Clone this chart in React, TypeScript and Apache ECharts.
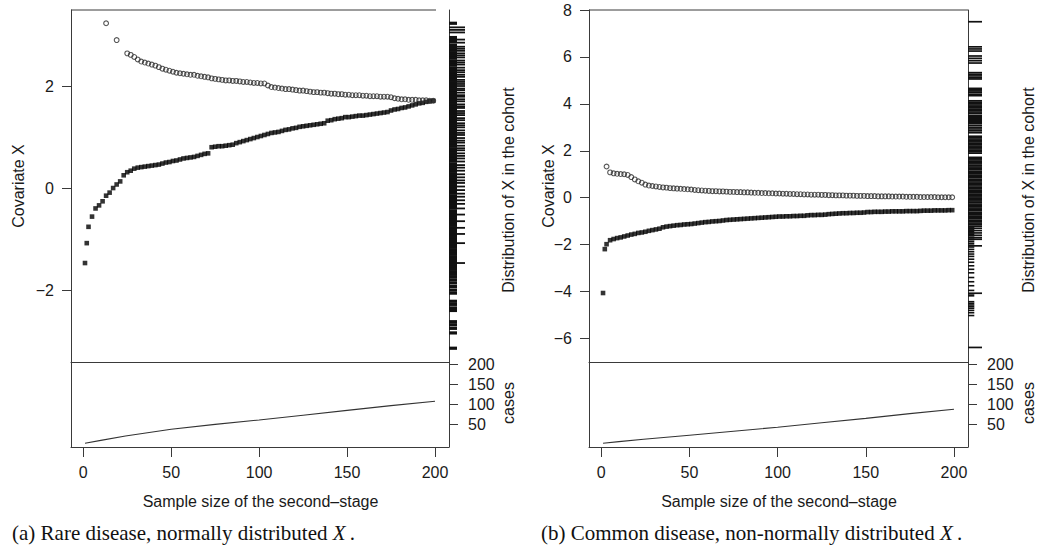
import React, { useEffect, useRef } from "react";
import * as echarts from "echarts";

// ---------- data ----------
const sampleSizes = [1, 2, 3, 5, 7, 9, 11, 13, 15, 17, 19, 21, 23, 25, 27, 29, 31, 33, 35, 37, 39, 41, 43, 45, 47, 49, 51, 53, 55, 57, 59, 61, 63, 65, 67, 69, 71, 73, 75, 77, 79, 81, 83, 85, 87, 89, 91, 93, 95, 97, 99, 101, 103, 105, 107, 109, 111, 113, 115, 117, 119, 121, 123, 125, 127, 129, 131, 133, 135, 137, 139, 141, 143, 145, 147, 149, 151, 153, 155, 157, 159, 161, 163, 165, 167, 169, 171, 173, 175, 177, 179, 181, 183, 185, 187, 189, 191, 193, 195, 197, 199];

// (a) rare disease: upper (open circles) and lower (filled squares) bounds
const rareUpper = [null, null, null, null, null, null, null, 3.23, null, null, 2.9, null, null,
  2.64, 2.61, 2.57, 2.52, 2.48, 2.46, 2.44, 2.42, 2.40, 2.37, 2.34, 2.32, 2.30, 2.28, 2.26,
  2.25, 2.24, 2.23, 2.22, 2.22, 2.20, 2.19, 2.18, 2.17, 2.15, 2.14, 2.13, 2.12, 2.11, 2.11,
  2.10, 2.10, 2.09, 2.08, 2.08, 2.07, 2.06, 2.06, 2.05, 2.05, 2.01, 1.98, 1.97, 1.96, 1.95,
  1.94, 1.94, 1.93, 1.92, 1.91, 1.91, 1.90, 1.89, 1.88, 1.88, 1.87, 1.87, 1.86, 1.85, 1.85,
  1.84, 1.84, 1.83, 1.83, 1.82, 1.82, 1.82, 1.81, 1.81, 1.80, 1.80, 1.80, 1.79, 1.79, 1.79,
  1.78, 1.76, 1.75, 1.74, 1.74, 1.73, 1.73, 1.73, 1.72, 1.72, 1.72, 1.71, 1.71];
const rareLower = [-1.47, -1.08, -0.76, -0.56, -0.40, -0.34, -0.26,
  -0.15, -0.09, 0.00, 0.07, 0.13, 0.25, 0.31, 0.34, 0.38, 0.40,
  0.41, 0.42, 0.43, 0.44, 0.45, 0.46, 0.48, 0.50, 0.51, 0.53,
  0.54, 0.56, 0.58, 0.59, 0.60, 0.61, 0.63, 0.65, 0.67, 0.68,
  0.80, 0.81, 0.82, 0.82, 0.83, 0.84, 0.85, 0.88, 0.90, 0.92,
  0.94, 0.96, 0.98, 1.00, 1.02, 1.04, 1.06, 1.08, 1.09, 1.10,
  1.12, 1.14, 1.15, 1.17, 1.18, 1.20, 1.21, 1.22, 1.23, 1.24,
  1.25, 1.26, 1.27, 1.32, 1.33, 1.35, 1.36, 1.37, 1.39, 1.39,
  1.40, 1.41, 1.42, 1.42, 1.43, 1.44, 1.45, 1.46, 1.47, 1.48,
  1.49, 1.52, 1.54, 1.55, 1.57, 1.58, 1.60, 1.62, 1.64, 1.66,
  1.67, 1.69, 1.70, 1.71];

// (b) common disease
const commonUpper = [null, null, 1.33, 1.08, 1.04, 1.02, 1.01,
  1.00, 0.97, 0.88, 0.78, 0.70, 0.64, 0.56, 0.52, 0.50, 0.48,
  0.46, 0.44, 0.43, 0.41, 0.40, 0.39, 0.38, 0.37, 0.36, 0.35,
  0.33, 0.32, 0.31, 0.30, 0.29, 0.28, 0.28, 0.27, 0.27, 0.26,
  0.25, 0.25, 0.24, 0.24, 0.23, 0.23, 0.22, 0.21, 0.21, 0.20,
  0.20, 0.19, 0.19, 0.18, 0.18, 0.17, 0.17, 0.16, 0.16, 0.15,
  0.15, 0.14, 0.14, 0.13, 0.13, 0.13, 0.12, 0.12, 0.11, 0.11,
  0.10, 0.10, 0.10, 0.09, 0.09, 0.09, 0.08, 0.08, 0.08, 0.07,
  0.07, 0.07, 0.06, 0.06, 0.06, 0.06, 0.05, 0.05, 0.05, 0.05,
  0.04, 0.04, 0.04, 0.04, 0.03, 0.03, 0.03, 0.03, 0.03, 0.02,
  0.02, 0.02, 0.02, 0.02];
const commonLower = [-4.06, -2.19, -1.98, -1.81, -1.76, -1.72, -1.69,
  -1.65, -1.61, -1.57, -1.54, -1.50, -1.48, -1.45, -1.41, -1.38, -1.35,
  -1.32, -1.26, -1.23, -1.21, -1.19, -1.17, -1.16, -1.14, -1.13, -1.12,
  -1.10, -1.08, -1.06, -1.04, -1.03, -1.01, -1.00, -0.99, -0.97, -0.95,
  -0.94, -0.93, -0.92, -0.91, -0.90, -0.89, -0.88, -0.87, -0.86, -0.85,
  -0.84, -0.83, -0.82, -0.81, -0.80, -0.80, -0.79, -0.79, -0.78, -0.78,
  -0.77, -0.77, -0.75, -0.74, -0.74, -0.73, -0.73, -0.72, -0.70, -0.69,
  -0.68, -0.67, -0.66, -0.66, -0.65, -0.65, -0.64, -0.64, -0.63, -0.61,
  -0.61, -0.60, -0.60, -0.60, -0.59, -0.59, -0.58, -0.58, -0.58, -0.58,
  -0.57, -0.57, -0.57, -0.57, -0.56, -0.55, -0.55, -0.55, -0.54, -0.54,
  -0.54, -0.54, -0.53, -0.53];

// number of cases in the second stage
const casesSampleSizes = [1, 10, 24, 50, 75, 100, 125, 150, 175, 200];
const rareCases = [2, 9, 20, 37, 49, 60, 72, 84, 96, 107];
const commonCases = [2, 6, 12, 22, 32, 42, 53, 64, 76, 87];

// distribution of X in the cohort (rug)
const rareCohortLong = [3.15, 3.10, 3.05, 2.91, 2.85, 2.77, 2.73, 2.69, 2.64, 2.60, 2.56, 2.50, 2.46,
  2.42, 2.36, 2.31, 2.27, 2.22, 2.18, 2.12, 2.08, 2.04, 2.00, 1.95, 1.92, 1.87, 1.82, 1.79, 1.74,
  1.70, 1.64, 1.60, 1.57, 1.51, 1.47, 1.43, 1.37, 1.33, 1.27, 1.23, 1.19, 1.13, 1.08, 1.04, 0.98,
  0.93, 0.89, 0.83, 0.78, 0.74, 0.68, 0.63, 0.58, 0.52, 0.45, 0.40, 0.34, 0.27, 0.21, 0.15, 0.10,
  0.03, -0.04, -0.11, -0.17, -0.24, -0.31, -0.40, -0.52, -0.65, -0.78, -0.90, -1.08, -1.47];
const rareCohortShort = [3.23, 2.95, 2.88, 2.80, 2.74, 2.70, 2.64, 2.60, 2.55, 2.49, 2.45, 2.41, 2.35,
  2.31, 2.26, 2.20, 2.16, 2.12, 2.06, 2.02, 1.97, 1.91, 1.87, 1.83, 1.77, 1.73, 1.68, 1.63, 1.58,
  1.54, 1.49, 1.44, 1.39, 1.35, 1.29, 1.25, 1.20, 1.15, 1.11, 1.05, 1.01, 0.96, 0.90, 0.86, 0.82,
  0.76, 0.72, 0.67, 0.61, 0.57, 0.53, 0.47, 0.43, 0.38, 0.33, 0.28, 0.24, 0.18, 0.14, 0.09, 0.05,
  -0.01, -0.05, -0.10, -0.16, -0.20, -0.25, -0.30, -0.34, -0.39, -0.45, -0.49, -0.54, -0.58, -0.63,
  -0.69, -0.73, -0.78, -0.83, -0.87, -0.93, -0.97, -1.02, -1.07, -1.11, -1.16, -1.21, -1.26, -1.30,
  -1.36, -1.40, -1.45, -1.50, -1.55, -1.59, -1.64, -1.69, -1.74, -1.80, -1.86, -1.93, -2.00, -2.06,
  -2.22, -2.28, -2.35, -2.40, -2.62, -2.68, -2.75, -2.84, -3.14];
const commonCohortLong = [7.50, 6.43, 6.34, 6.25, 6.04, 5.94, 5.84, 5.74, 5.33, 5.26, 5.19, 5.11, 5.06,
  4.66, 4.60, 4.55, 4.49, 4.41, 4.35, 4.13, 4.07, 4.01, 3.95, 3.89, 3.83, 3.77, 3.71, 3.65, 3.58,
  3.49, 3.45, 3.41, 3.37, 3.33, 3.29, 3.25, 3.20, 3.16, 3.08, 3.00, 2.93, 2.85, 2.77, 2.62, 2.56,
  2.50, 2.44, 2.38, 2.32, 2.26, 2.20, 2.14, 2.08, 2.02, 1.96, 1.90, 1.72, 1.66, 1.61, 1.55, 1.49,
  1.44, 1.37, 1.31, 1.26, 1.20, 1.13, 1.08, 1.02, 0.96, 0.91, 0.85, 0.78, 0.73, 0.67, 0.61, 0.56,
  0.50, 0.43, 0.38, 0.32, 0.26, 0.21, 0.15, 0.08, 0.03, -0.03, -0.09, -0.14, -0.20, -0.27, -0.32,
  -0.38, -0.44, -0.49, -0.55, -0.62, -0.67, -0.73, -0.79, -0.84, -0.90, -0.97, -1.02, -1.08, -1.14,
  -1.21, -1.30, -1.40, -1.50, -1.60, -1.70, -1.77, -2.05, -4.07, -6.38];
const commonCohortShort = [-1.25, -1.31, -1.37, -1.43, -1.50, -1.56, -1.62, -1.70, -1.78, -1.86, -1.94,
  -2.02, -2.10, -2.20, -2.30, -2.40, -2.50, -2.62, -2.75, -2.90, -3.05, -3.20, -3.40, -3.58, -3.75,
  -3.95, -4.10, -4.18, -4.43, -4.50, -4.57, -4.64, -4.71, -4.80, -4.90, -5.02];

const xTicks = [0, 50, 100, 150, 200];
const rareYTicks = [-2, 0, 2];
const commonYTicks = [-6, -4, -2, 0, 2, 4, 6, 8];
const casesTicks = [50, 100, 150, 200];

// ---------- layout / style ----------
const SANS = '"Liberation Sans", Arial, sans-serif';
const SERIF = '"Liberation Serif", "Times New Roman", serif';
const LINE = "#3a3a3a";
const TEXT = "#1a1a1a";
const TOP = 10;
const SEP = 362;
const BOTTOM = 447;
const X_MIN = -6.96;
const X_MAX = 207.96;
const CASES_MIN = -7.5;
const CASES_MAX = 205;

const panels = [
  {
    left: 71, right: 449, topLineEnd: 436, rugLen: 16, shortFrac: 0.5, shortThick: 3.2, longThick: 1.8,
    yMin: -3.41, yMax: 3.49, yTicks: rareYTicks,
    upper: rareUpper, lower: rareLower, cases: rareCases,
    rugLong: rareCohortLong, rugShort: rareCohortShort,
    caption: "(a) Rare disease, normally distributed {i|X}\u2009.", captionX: 12,
    yLabelX: 18, rightLabelX: 508,
  },
  {
    left: 589, right: 968, topLineEnd: 968, rugLen: 14, shortFrac: 0.45, shortThick: 1.6, longThick: 1.7,
    yMin: -7, yMax: 8, yTicks: commonYTicks,
    upper: commonUpper, lower: commonLower, cases: commonCases,
    rugLong: commonCohortLong, rugShort: commonCohortShort,
    caption: "(b) Common disease, non-normally distributed {i|X}\u2009.", captionX: 541,
    yLabelX: 548, rightLabelX: 1028,
  },
];

const fmt = (v: number) => (v < 0 ? "\u2212" + Math.abs(v) : String(v));

function rugRenderer(frac: number, thick: number) {
  return (_params: any, api: any) => {
    const v = api.value(1);
    const a = api.coord([0, v]);
    const b = api.coord([frac, v]);
    return {
      type: "line",
      shape: { x1: a[0], y1: a[1], x2: b[0], y2: b[1] },
      style: { stroke: "#111", lineWidth: thick },
    };
  };
}

function buildOption() {
  const grid: any[] = [];
  const xAxis: any[] = [];
  const yAxis: any[] = [];
  const series: any[] = [];
  const graphic: any[] = [];
  const axisLine = { show: true, onZero: false, lineStyle: { color: LINE, width: 1 } };
  const tickStyle = { color: LINE, width: 1 };
  const labelStyle = { fontSize: 16, fontFamily: SANS, color: TEXT };

  panels.forEach((p) => {
    const gMain = grid.length;
    grid.push({ left: p.left, top: TOP, width: p.right - p.left, height: SEP - TOP });
    grid.push({ left: p.left, top: SEP, width: p.right - p.left, height: BOTTOM - SEP });
    grid.push({ left: p.right, top: TOP, width: p.rugLen, height: SEP - TOP });
    const gCases = gMain + 1;
    const gRug = gMain + 2;

    const xMain = xAxis.length;
    xAxis.push({
      gridIndex: gMain, type: "value", min: X_MIN, max: X_MAX, position: "bottom",
      axisLine, axisTick: { show: false }, axisLabel: { show: false }, splitLine: { show: false },
    });
    const xCases = xAxis.length;
    xAxis.push({
      gridIndex: gCases, type: "value", min: X_MIN, max: X_MAX, position: "bottom",
      axisLine,
      axisTick: { show: true, length: 10, lineStyle: tickStyle, customValues: xTicks },
      axisLabel: { ...labelStyle, customValues: xTicks, margin: 17 },
      splitLine: { show: false },
    });
    const xRug = xAxis.length;
    xAxis.push({ gridIndex: gRug, type: "value", min: 0, max: 1, show: false });

    const yMain = yAxis.length;
    yAxis.push({
      gridIndex: gMain, type: "value", min: p.yMin, max: p.yMax, position: "left",
      axisLine,
      axisTick: { show: true, length: 9, lineStyle: tickStyle, customValues: p.yTicks },
      axisLabel: { ...labelStyle, customValues: p.yTicks, formatter: fmt, margin: 17 },
      splitLine: { show: false },
    });
    yAxis.push({
      gridIndex: gCases, type: "value", min: CASES_MIN, max: CASES_MAX, position: "left",
      axisLine, axisTick: { show: false }, axisLabel: { show: false }, splitLine: { show: false },
    });
    const yCases = yAxis.length;
    yAxis.push({
      gridIndex: gCases, type: "value", min: CASES_MIN, max: CASES_MAX, position: "right",
      axisLine,
      axisTick: { show: true, length: 9, lineStyle: tickStyle, customValues: casesTicks },
      axisLabel: { ...labelStyle, customValues: casesTicks, margin: 19 },
      splitLine: { show: false },
    });
    const yRug = yAxis.length;
    yAxis.push({
      gridIndex: gRug, type: "value", min: p.yMin, max: p.yMax, position: "left",
      axisLine, axisTick: { show: false }, axisLabel: { show: false }, splitLine: { show: false },
    });

    const pairs = (vals: (number | null)[]) =>
      sampleSizes.map((n, i) => [n, vals[i]]).filter((d) => d[1] !== null && d[1] !== undefined);

    series.push({
      type: "custom", xAxisIndex: xRug, yAxisIndex: yRug, clip: false, silent: true,
      data: p.rugShort.map((v) => [0, v]),
      renderItem: rugRenderer(p.shortFrac, p.shortThick),
    });
    series.push({
      type: "custom", xAxisIndex: xRug, yAxisIndex: yRug, clip: false, silent: true,
      data: p.rugLong.map((v) => [0, v]),
      renderItem: rugRenderer(1, p.longThick),
    });
    series.push({
      type: "scatter", xAxisIndex: xMain, yAxisIndex: yMain, data: pairs(p.lower),
      symbol: "rect", symbolSize: 4.6, itemStyle: { color: "#000" }, silent: true,
    });
    series.push({
      type: "scatter", xAxisIndex: xMain, yAxisIndex: yMain, data: pairs(p.upper),
      symbol: "circle", symbolSize: 4.8,
      itemStyle: { color: "rgba(0,0,0,0)", borderColor: "#2a2a2a", borderWidth: 1.1 }, silent: true,
    });
    series.push({
      type: "line", xAxisIndex: xCases, yAxisIndex: yCases,
      data: casesSampleSizes.map((n, i) => [n, p.cases[i]]),
      symbol: "none", lineStyle: { color: "#333", width: 1.1 }, silent: true,
    });

    // frame top line
    graphic.push({
      type: "line", silent: true,
      shape: { x1: p.left, y1: TOP, x2: p.topLineEnd, y2: TOP },
      style: { stroke: LINE, lineWidth: 1 },
    });
    // texts
    graphic.push({
      type: "text", x: p.yLabelX, y: (TOP + SEP) / 2, rotation: Math.PI / 2, silent: true,
      style: { text: "Covariate X", fontSize: 16, fontFamily: SANS, fill: TEXT, align: "center", verticalAlign: "middle" },
    });
    graphic.push({
      type: "text", x: p.rightLabelX, y: 190, rotation: Math.PI / 2, silent: true,
      style: { text: "Distribution of X in the cohort", fontSize: 16, fontFamily: SANS, fill: TEXT, align: "center", verticalAlign: "middle" },
    });
    graphic.push({
      type: "text", x: p.rightLabelX, y: 403, rotation: Math.PI / 2, silent: true,
      style: { text: "cases", fontSize: 16, fontFamily: SANS, fill: TEXT, align: "center", verticalAlign: "middle" },
    });
    graphic.push({
      type: "text", x: (p.left + p.right) / 2 + 0.5, y: 501, silent: true,
      style: { text: "Sample size of the second\u2013stage", fontSize: 16, fontFamily: SANS, fill: TEXT, align: "center", verticalAlign: "middle" },
    });
    graphic.push({
      type: "text", x: p.captionX, y: 533, silent: true,
      style: {
        text: p.caption, fontSize: 21, fontFamily: SERIF, fill: "#111", align: "left", verticalAlign: "middle",
        rich: { i: { fontSize: 21, fontFamily: SERIF, fontStyle: "italic", fill: "#111" } },
      },
    });
  });

  return { animation: false, backgroundColor: "#fff", grid, xAxis, yAxis, series, graphic };
}

export default function App() {
  const ref = useRef<HTMLDivElement>(null);
  useEffect(() => {
    if (!ref.current) return;
    const chart = echarts.init(ref.current, null, { renderer: "svg" });
    chart.setOption(buildOption() as any);
    return () => chart.dispose();
  }, []);
  return (
    <div
      ref={ref}
      style={{ position: "absolute", left: 0, top: 0, width: 1039, height: 548, background: "#fff" }}
    />
  );
}
